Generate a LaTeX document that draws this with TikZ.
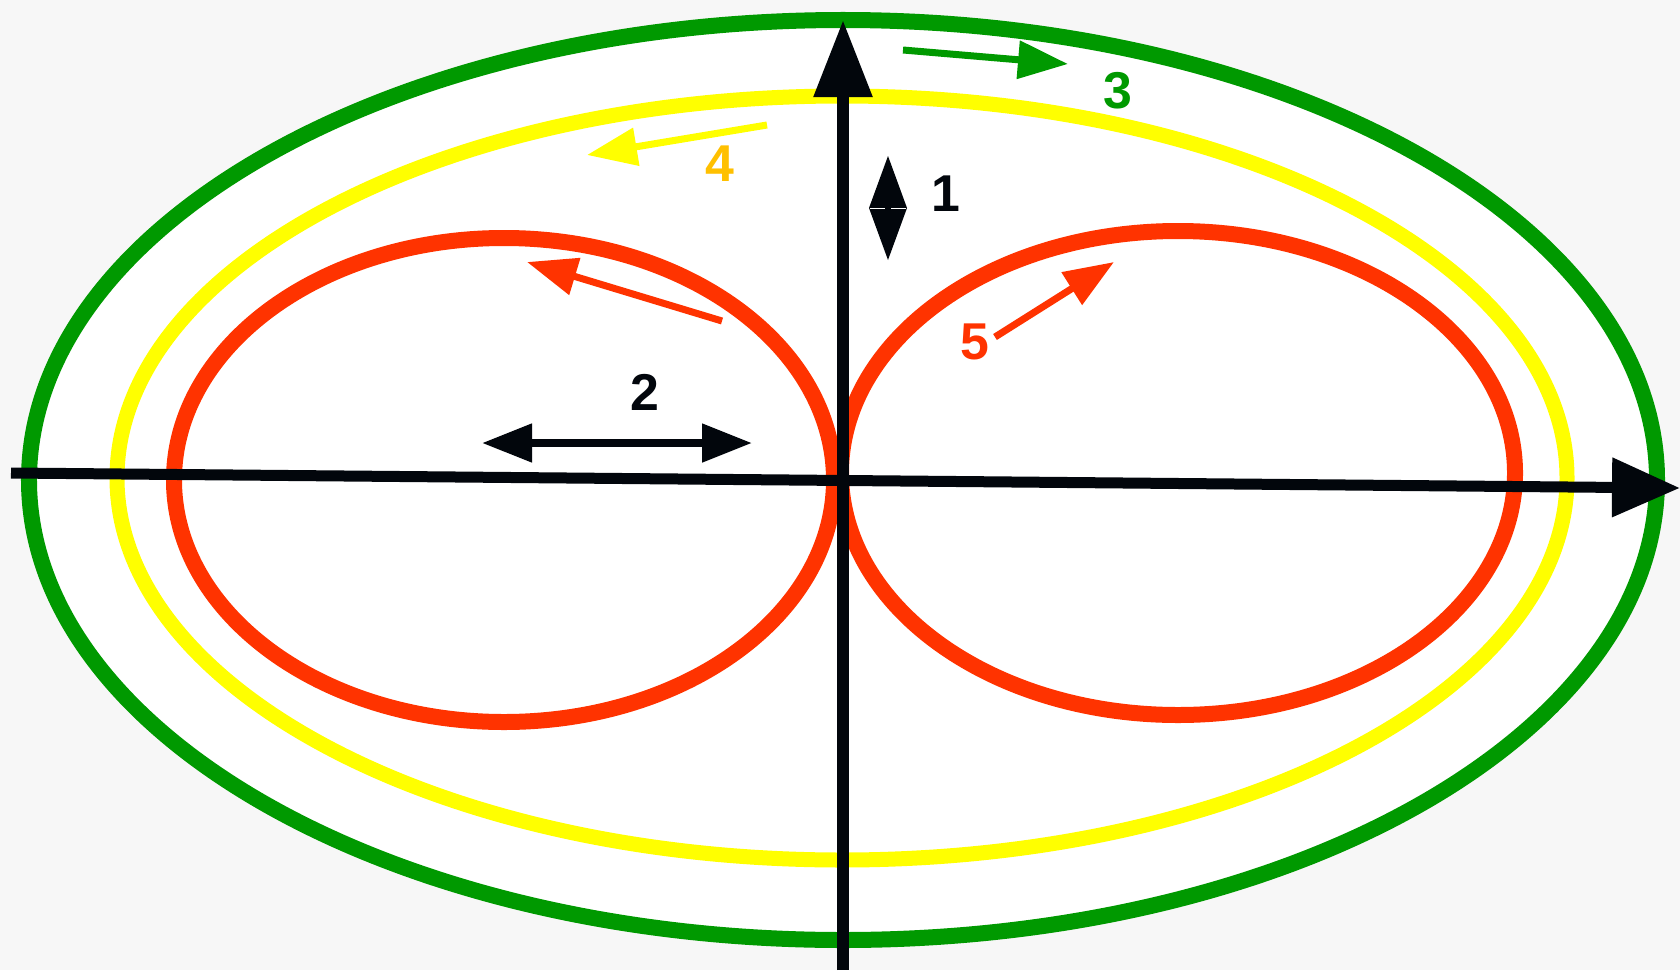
\documentclass[tikz,border=0pt]{standalone}
\usepackage{fontspec}
\setmainfont{Liberation Sans}
\usetikzlibrary{arrows.meta}
\definecolor{gr}{HTML}{009900}
\definecolor{ye}{HTML}{FFFF00}
\definecolor{rd}{HTML}{FF3300}
\definecolor{gold}{HTML}{FFC000}
\definecolor{bk}{HTML}{02060C}
\definecolor{bg}{HTML}{F7F7F7}
\tikzset{
  ring/.style={line width=16bp},
  smallarrow/.style={line width=7bp,-{Triangle[length=50bp,width=37bp]}},
  lbl/.style={inner sep=0pt,font=\fontsize{52}{52}\selectfont\bfseries},
}
\begin{document}
\begin{tikzpicture}[x=1bp,y=-1bp]
\useasboundingbox (0,0) rectangle (1680,970);
\fill[bg] (0,0) rectangle (1680,970);
% rings
\filldraw[ring,draw=gr,fill=white] (843,480) ellipse [x radius=814bp, y radius=460bp];
\draw[ring,ye,line width=15bp] (842,478) ellipse [x radius=725bp, y radius=382bp];
\draw[ring,rd] (504,480) ellipse [x radius=330bp, y radius=242bp];
\draw[ring,rd] (1178,473) ellipse [x radius=337bp, y radius=242bp];
% axes
\coordinate (hx0) at (11,473);
\coordinate (hx1) at (1680,488);
\coordinate (vy0) at (843,970);
\coordinate (vy1) at (843,20);
\draw[bk,line width=11bp,-{Triangle[length=68bp,width=57bp]}] (hx0) -- (hx1);
\draw[bk,line width=12bp,-{Triangle[length=77bp,width=56bp]}] (vy0) -- (vy1);
% arrow 1
\fill[bk] (869,208) -- (888,156) -- (907,208) -- (888,260) -- cycle;
\draw[white,line width=1bp] (870,208) -- (885,208) (891,208) -- (906,208);
\node[lbl,bk] (l1) at (946,194) {1};
% arrow 2
\coordinate (a2l) at (482,443);
\coordinate (a2r) at (752,443);
\draw[bk,line width=8bp,{Triangle[length=50bp,width=37bp]}-{Triangle[length=50bp,width=37bp]}] (a2l) -- (a2r);
\node[lbl,bk] (l2) at (645,392) {2};
% arrow 3
\coordinate (a3s) at (903,50);
\coordinate (a3e) at (1068,64);
\draw[gr,smallarrow] (a3s) -- (a3e);
\node[lbl,gr] (l3) at (1118,91) {3};
% arrow 4
\coordinate (a4s) at (767,125);
\coordinate (a4e) at (587,155);
\draw[ye,smallarrow] (a4s) -- (a4e);
\node[lbl,gold] (l4) at (720,164) {4};
% red arrow left
\coordinate (ars) at (722,321);
\coordinate (are) at (527,262);
\draw[rd,smallarrow] (ars) -- (are);
% arrow 5
\coordinate (a5s) at (995,337);
\coordinate (a5e) at (1114,262);
\draw[rd,smallarrow] (a5s) -- (a5e);
\node[lbl,rd] (l5) at (975,342) {5};
\end{tikzpicture}
\end{document}
